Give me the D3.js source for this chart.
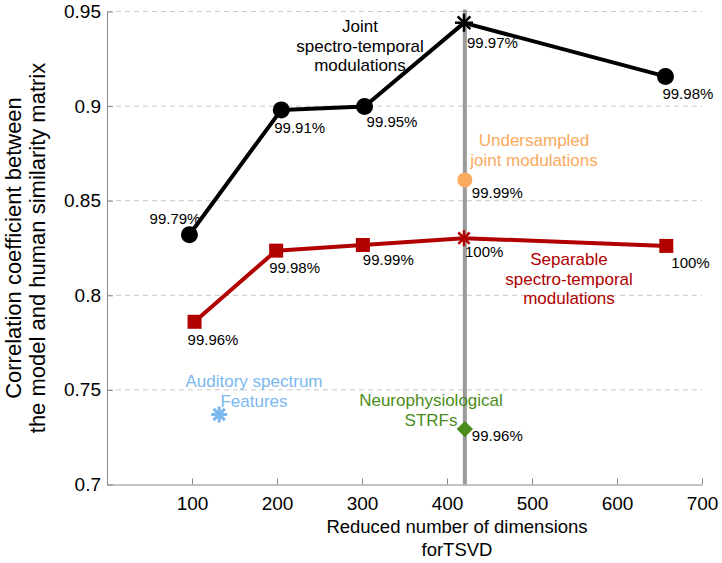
<!DOCTYPE html>
<html>
<head>
<meta charset="utf-8">
<script src="https://cdn.jsdelivr.net/npm/d3@7"></script>
<style>
  html, body { margin: 0; padding: 0; background: #fff; }
  svg { display: block; font-family: "Liberation Sans", Arial, sans-serif; }
</style>
</head>
<body>
<svg id="chart" width="722" height="563"></svg>
<script>
// ---------------- data ----------------
const xTicks = [100, 200, 300, 400, 500, 600, 700];
const yTicks = [0.7, 0.75, 0.8, 0.85, 0.9, 0.95];
const yTickLabels = ["0.7", "0.75", "0.8", "0.85", "0.9", "0.95"];

const jointDims = [97, 205, 303, 420, 657];
const jointCorr = [0.832, 0.898, 0.8998, 0.944, 0.9157];
const jointPct = ["99.79%", "99.91%", "99.95%", "99.97%", "99.98%"];

const sepDims = [103, 199, 301, 420, 658];
const sepCorr = [0.786, 0.8236, 0.8266, 0.8302, 0.8261];
const sepPct = ["99.96%", "99.98%", "99.99%", "100%", "100%"];

const underDims = [421];
const underCorr = [0.861];
const underPct = ["99.99%"];

const strfDims = [421];
const strfCorr = [0.7293];
const strfPct = ["99.96%"];

const audDims = [132];
const audCorr = [0.737];

const markerLineDim = 421;

// ---------------- layout ----------------
const svg = d3.select("#chart");
const x = d3.scaleLinear().domain([0, 700]).range([107, 702]);
const y = d3.scaleLinear().domain([0.7, 0.95]).range([484.5, 11.5]);

const red = "#b00000", orange = "#fbaa5e", green = "#4c8c1a", blue = "#7bb8f0";

// gridlines
svg.append("g").selectAll("line")
  .data(yTicks.slice(1)).join("line")
  .attr("x1", x(0)).attr("x2", x(700))
  .attr("y1", d => y(d)).attr("y2", d => y(d))
  .attr("stroke", "#c8c8c8").attr("stroke-width", 1)
  .attr("stroke-dasharray", "5,4");

// axes
const xAxis = d3.axisBottom(x).tickValues(xTicks).tickSizeInner(-6).tickSizeOuter(0).tickPadding(12);
const gx = svg.append("g").attr("transform", `translate(0,${y(0.7)})`).call(xAxis);
gx.select(".domain").attr("stroke", "#888");
gx.selectAll(".tick line").attr("stroke", "#888");
gx.selectAll("text").attr("font-size", 19).attr("fill", "#000").attr("font-family", "Liberation Sans, Arial, sans-serif");

const yAxis = d3.axisLeft(y).tickValues(yTicks).tickFormat((d, i) => yTickLabels[i])
  .tickSizeInner(-6).tickSizeOuter(0).tickPadding(6);
const gy = svg.append("g").attr("transform", `translate(${x(0)},0)`).call(yAxis);
gy.select(".domain").attr("stroke", "#888");
gy.selectAll(".tick line").attr("stroke", "#888");
gy.selectAll("text").attr("font-size", 19).attr("fill", "#000").attr("font-family", "Liberation Sans, Arial, sans-serif");

// vertical reference line
svg.append("line")
  .attr("x1", x(markerLineDim)).attr("x2", x(markerLineDim))
  .attr("y1", y(0.95) - 2).attr("y2", y(0.7))
  .attr("stroke", "#9a9a9a").attr("stroke-width", 4);

// lines
const jointData = jointDims.map((d, i) => ({ x: d, y: jointCorr[i], p: jointPct[i] }));
const sepData = sepDims.map((d, i) => ({ x: d, y: sepCorr[i], p: sepPct[i] }));
const line = d3.line().x(d => x(d.x)).y(d => y(d.y));

svg.append("path").datum(sepData).attr("d", line)
  .attr("fill", "none").attr("stroke", red).attr("stroke-width", 4).attr("stroke-linejoin", "round");
svg.append("path").datum(jointData).attr("d", line)
  .attr("fill", "none").attr("stroke", "#000").attr("stroke-width", 4).attr("stroke-linejoin", "round");

// 8-armed asterisk (plus + cross), like MATLAB '*'
function asterisk(r) {
  const p = d3.path();
  const k = r * Math.SQRT1_2;
  p.moveTo(-r, 0); p.lineTo(r, 0);
  p.moveTo(0, -r); p.lineTo(0, r);
  p.moveTo(-k, -k); p.lineTo(k, k);
  p.moveTo(-k, k); p.lineTo(k, -k);
  return p.toString();
}

// joint markers
jointData.forEach((d, i) => {
  if (i === 3) {
    svg.append("path").attr("d", asterisk(9))
      .attr("transform", `translate(${x(d.x)},${y(d.y)})`)
      .attr("fill", "none").attr("stroke", "#000").attr("stroke-width", 2.5);
  } else {
    svg.append("circle").attr("cx", x(d.x)).attr("cy", y(d.y)).attr("r", 8.5).attr("fill", "#000");
  }
});

// separable markers
sepData.forEach((d, i) => {
  if (i === 3) {
    svg.append("path").attr("d", asterisk(8))
      .attr("transform", `translate(${x(d.x)},${y(d.y)})`)
      .attr("fill", "none").attr("stroke", red).attr("stroke-width", 2.5);
  } else {
    svg.append("rect").attr("x", x(d.x) - 7).attr("y", y(d.y) - 7)
      .attr("width", 14).attr("height", 14).attr("fill", red);
  }
});

// undersampled
svg.append("circle").attr("cx", x(underDims[0])).attr("cy", y(underCorr[0])).attr("r", 7.5).attr("fill", orange);
// STRF diamond
svg.append("path").attr("d", d3.symbol().type(d3.symbolDiamond2).size(170)())
  .attr("transform", `translate(${x(strfDims[0])},${y(strfCorr[0])})`).attr("fill", green);
// Auditory asterisk
svg.append("path").attr("d", asterisk(8))
  .attr("transform", `translate(${x(audDims[0])},${y(audCorr[0])})`)
  .attr("fill", "none").attr("stroke", blue).attr("stroke-width", 3);

// percentage labels (offsets in px relative to marker)
const jointOff = [[11, -11, "end"], [-7, 23, "start"], [2, 21, "start"], [3, 25, "start"], [-3, 23, "start"]];
const sepOff = [[-7, 23], [-7, 22], [0, 20], [1, 19], [5, 22]];
const pctFont = 15;

jointData.forEach((d, i) => {
  svg.append("text").attr("x", x(d.x) + jointOff[i][0]).attr("y", y(d.y) + jointOff[i][1])
    .attr("text-anchor", jointOff[i][2]).attr("font-size", pctFont).text(d.p);
});
sepData.forEach((d, i) => {
  svg.append("text").attr("x", x(d.x) + sepOff[i][0]).attr("y", y(d.y) + sepOff[i][1])
    .attr("font-size", pctFont).text(d.p);
});
svg.append("text").attr("x", x(underDims[0]) + 7).attr("y", y(underCorr[0]) + 18)
  .attr("font-size", pctFont).text(underPct[0]);
svg.append("text").attr("x", x(strfDims[0]) + 7).attr("y", y(strfCorr[0]) + 12)
  .attr("font-size", pctFont).text(strfPct[0]);

// series annotations
function multiline(lines, cx, y0, color, lh) {
  const t = svg.append("text").attr("text-anchor", "middle").attr("font-size", 17).attr("fill", color);
  lines.forEach((s, i) => t.append("tspan").attr("x", cx).attr("y", y0 + i * lh).text(s));
}
multiline(["Joint", "spectro-temporal", "modulations"], 360, 32, "#000", 19.5);
multiline(["Undersampled", "joint modulations"], 534, 146, orange, 20);
multiline(["Separable", "spectro-temporal", "modulations"], 569, 265, red, 19.5);
multiline(["Neurophysiological", "STRFs"], 431, 406, green, 20);
multiline(["Auditory spectrum", "Features"], 254, 387, blue, 20);

// axis titles
const xt = svg.append("text").attr("text-anchor", "middle").attr("font-size", 18.5);
xt.append("tspan").attr("x", 457).attr("y", 533).text("Reduced number of dimensions");
xt.append("tspan").attr("x", 457).attr("y", 556).text("forTSVD");

const yt = svg.append("text").attr("text-anchor", "middle").attr("font-size", 22)
  .attr("transform", "translate(0,248) rotate(-90)");
yt.append("tspan").attr("x", 0).attr("y", 21).text("Correlation coefficient between");
yt.append("tspan").attr("x", 0).attr("y", 45).text("the model and human similarity matrix");
</script>
</body>
</html>
